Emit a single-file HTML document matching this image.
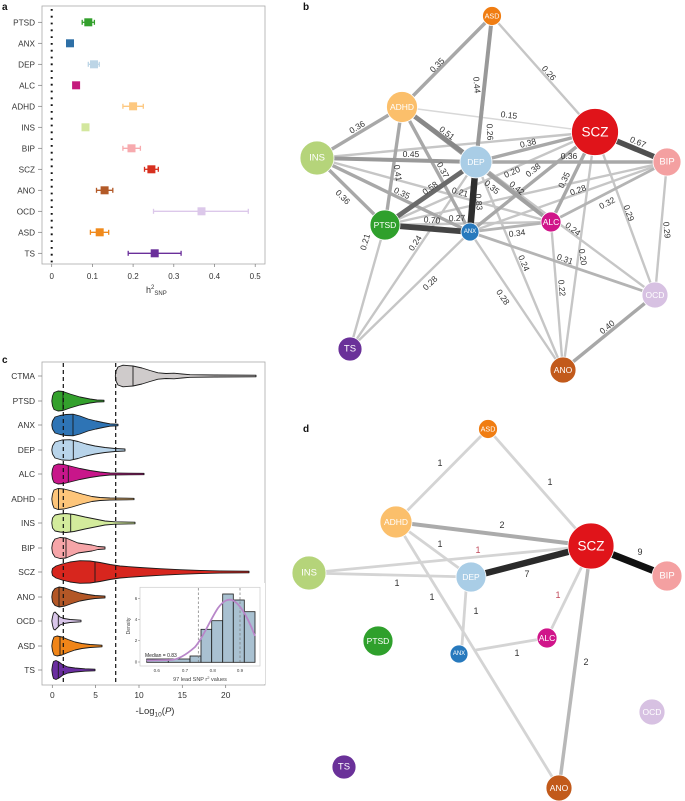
<!DOCTYPE html>
<html><head><meta charset="utf-8"><style>
html,body{margin:0;padding:0;background:#fff;}
svg{display:block;}
text{font-family:"Liberation Sans",Arial,sans-serif;}
</style></head><body>
<svg xmlns="http://www.w3.org/2000/svg" width="685" height="801" viewBox="0 0 685 801">
<rect width="685" height="801" fill="#fff"/>

<!-- ============ PANEL A ============ -->
<text x="2" y="10" font-size="10" font-weight="bold" fill="#111">a</text>
<rect x="42" y="6" width="223" height="258" fill="none" stroke="#aaa" stroke-width="0.8"/>
<line x1="51.7" y1="9" x2="51.7" y2="264" stroke="#111" stroke-width="2" stroke-dasharray="1.8 5"/>
<g font-size="8.2" fill="#333" text-anchor="end">
<text x="35" y="25.3">PTSD</text><text x="35" y="46.3">ANX</text><text x="35" y="67.3">DEP</text>
<text x="35" y="88.3">ALC</text><text x="35" y="109.3">ADHD</text><text x="35" y="130.3">INS</text>
<text x="35" y="151.3">BIP</text><text x="35" y="172.3">SCZ</text><text x="35" y="193.3">ANO</text>
<text x="35" y="214.3">OCD</text><text x="35" y="235.3">ASD</text><text x="35" y="256.3">TS</text>
</g>
<g stroke="#777" stroke-width="0.7">
<line x1="38" y1="22.3" x2="42" y2="22.3"/><line x1="38" y1="43.3" x2="42" y2="43.3"/><line x1="38" y1="64.3" x2="42" y2="64.3"/>
<line x1="38" y1="85.3" x2="42" y2="85.3"/><line x1="38" y1="106.3" x2="42" y2="106.3"/><line x1="38" y1="127.3" x2="42" y2="127.3"/>
<line x1="38" y1="148.3" x2="42" y2="148.3"/><line x1="38" y1="169.3" x2="42" y2="169.3"/><line x1="38" y1="190.3" x2="42" y2="190.3"/>
<line x1="38" y1="211.3" x2="42" y2="211.3"/><line x1="38" y1="232.3" x2="42" y2="232.3"/><line x1="38" y1="253.3" x2="42" y2="253.3"/>
<line x1="51.7" y1="264" x2="51.7" y2="267"/><line x1="92.4" y1="264" x2="92.4" y2="267"/><line x1="133.1" y1="264" x2="133.1" y2="267"/>
<line x1="173.8" y1="264" x2="173.8" y2="267"/><line x1="214.5" y1="264" x2="214.5" y2="267"/><line x1="255.2" y1="264" x2="255.2" y2="267"/>
</g>
<g font-size="8" fill="#333" text-anchor="middle">
<text x="51.7" y="279">0</text><text x="92.4" y="279">0.1</text><text x="133.1" y="279">0.2</text>
<text x="173.8" y="279">0.3</text><text x="214.5" y="279">0.4</text><text x="255.2" y="279">0.5</text>
</g>
<text x="146" y="293" font-size="9" fill="#333">h<tspan dy="-4" font-size="6">2</tspan><tspan dy="6" font-size="6">SNP</tspan></text>
<!-- error bars -->
<g stroke-width="1.3" fill="none">
<g stroke="#33a02c"><line x1="82.2" y1="22.3" x2="94.4" y2="22.3"/><line x1="82.2" y1="19.8" x2="82.2" y2="24.8"/><line x1="94.4" y1="19.8" x2="94.4" y2="24.8"/></g>
<g stroke="#bcd5e6"><line x1="88.3" y1="64.3" x2="99.3" y2="64.3"/><line x1="88.3" y1="61.8" x2="88.3" y2="66.8"/><line x1="99.3" y1="61.8" x2="99.3" y2="66.8"/></g>
<g stroke="#fdc880"><line x1="122.9" y1="106.3" x2="143.3" y2="106.3"/><line x1="122.9" y1="103.8" x2="122.9" y2="108.8"/><line x1="143.3" y1="103.8" x2="143.3" y2="108.8"/></g>
<g stroke="#f7aaae"><line x1="122.9" y1="148.3" x2="140.4" y2="148.3"/><line x1="122.9" y1="145.8" x2="122.9" y2="150.8"/><line x1="140.4" y1="145.8" x2="140.4" y2="150.8"/></g>
<g stroke="#d7301f"><line x1="144.5" y1="169.3" x2="158.3" y2="169.3"/><line x1="144.5" y1="166.8" x2="144.5" y2="171.8"/><line x1="158.3" y1="166.8" x2="158.3" y2="171.8"/></g>
<g stroke="#b35a28"><line x1="96.5" y1="190.3" x2="112.8" y2="190.3"/><line x1="96.5" y1="187.8" x2="96.5" y2="192.8"/><line x1="112.8" y1="187.8" x2="112.8" y2="192.8"/></g>
<g stroke="#dcc8ea"><line x1="153.5" y1="211.3" x2="248.3" y2="211.3"/><line x1="153.5" y1="208.8" x2="153.5" y2="213.8"/><line x1="248.3" y1="208.8" x2="248.3" y2="213.8"/></g>
<g stroke="#f08a1c"><line x1="90.4" y1="232.3" x2="108.7" y2="232.3"/><line x1="90.4" y1="229.8" x2="90.4" y2="234.8"/><line x1="108.7" y1="229.8" x2="108.7" y2="234.8"/></g>
<g stroke="#6a2f9a"><line x1="128.2" y1="253.3" x2="181.1" y2="253.3"/><line x1="128.2" y1="250.8" x2="128.2" y2="255.8"/><line x1="181.1" y1="250.8" x2="181.1" y2="255.8"/></g>
</g>
<g>
<rect x="84.3" y="18.3" width="8" height="8" fill="#33a02c"/>
<rect x="66" y="39.3" width="8" height="8" fill="#2e6fa6"/>
<rect x="90" y="60.3" width="8" height="8" fill="#bcd5e6"/>
<rect x="72.1" y="81.3" width="8" height="8" fill="#c51b7d"/>
<rect x="129.1" y="102.3" width="8" height="8" fill="#fdc880"/>
<rect x="81.5" y="123.3" width="8" height="8" fill="#d3e79e"/>
<rect x="127.5" y="144.3" width="8" height="8" fill="#f7aaae"/>
<rect x="147.4" y="165.3" width="8" height="8" fill="#d7301f"/>
<rect x="100.6" y="186.3" width="8" height="8" fill="#b35a28"/>
<rect x="197.5" y="207.3" width="8" height="8" fill="#dcc8ea"/>
<rect x="95.7" y="228.3" width="8" height="8" fill="#f08a1c"/>
<rect x="150.7" y="249.3" width="8" height="8" fill="#6a2f9a"/>
</g>

<!-- ============ PANEL C ============ -->
<text x="2" y="363" font-size="10" font-weight="bold" fill="#111">c</text>
<rect x="42" y="362" width="223" height="323" fill="none" stroke="#aaa" stroke-width="0.8"/>
<g font-size="8.4" fill="#333" text-anchor="end">
<text x="35" y="379">CTMA</text><text x="35" y="404">PTSD</text><text x="35" y="428">ANX</text>
<text x="35" y="453">DEP</text><text x="35" y="477">ALC</text><text x="35" y="502">ADHD</text>
<text x="35" y="526">INS</text><text x="35" y="551">BIP</text><text x="35" y="575">SCZ</text>
<text x="35" y="600">ANO</text><text x="35" y="624">OCD</text><text x="35" y="649">ASD</text><text x="35" y="673">TS</text>
</g>
<g stroke="#777" stroke-width="0.7">
<line x1="38" y1="376" x2="42" y2="376"/><line x1="38" y1="401" x2="42" y2="401"/><line x1="38" y1="425" x2="42" y2="425"/>
<line x1="38" y1="450" x2="42" y2="450"/><line x1="38" y1="474" x2="42" y2="474"/><line x1="38" y1="499" x2="42" y2="499"/>
<line x1="38" y1="523" x2="42" y2="523"/><line x1="38" y1="548" x2="42" y2="548"/><line x1="38" y1="572" x2="42" y2="572"/>
<line x1="38" y1="597" x2="42" y2="597"/><line x1="38" y1="621" x2="42" y2="621"/><line x1="38" y1="646" x2="42" y2="646"/><line x1="38" y1="670" x2="42" y2="670"/>
<line x1="52.3" y1="685" x2="52.3" y2="688"/><line x1="95.6" y1="685" x2="95.6" y2="688"/><line x1="139" y1="685" x2="139" y2="688"/>
<line x1="182.3" y1="685" x2="182.3" y2="688"/><line x1="225.7" y1="685" x2="225.7" y2="688"/>
</g>
<g font-size="8.4" fill="#333" text-anchor="middle">
<text x="52.3" y="698">0</text><text x="95.6" y="698">5</text><text x="139" y="698">10</text>
<text x="182.3" y="698">15</text><text x="225.7" y="698">20</text>
</g>
<text x="155" y="714" font-size="9.5" fill="#333" text-anchor="middle">-Log<tspan font-size="6.5" dy="2.5">10</tspan><tspan dy="-2.5">(</tspan><tspan font-style="italic">P</tspan>)</text>

<!-- violins -->
<g stroke="#1a1a1a" stroke-width="0.9" stroke-linejoin="round">
<g transform="translate(0,376)"><path fill="#cfcbcb" d="M115.3,0 L116,-5 L118,-9 L123,-10.8 L133,-10 L142,-8 L150,-5.5 L158,-3.2 L166,-2.5 L174,-2.8 L182,-2 L190,-1.3 L215,-1 L256,-0.8 L256,0.8 L215,1 L190,1.3 L182,2 L174,2.8 L166,2.5 L158,3.2 L150,5.5 L142,8 L133,10 L123,10.8 L118,9 L116,5 Z"/><line x1="133" y1="-10" x2="133" y2="10"/></g>
<g transform="translate(0,401)"><path fill="#33a02c" d="M51.8,0 L52.5,-5 L54,-8.5 L58,-10 L63,-9.5 L70,-7 L80,-4 L90,-2 L97,-1 L104,-0.8 L104,0.8 L97,1 L90,2 L80,4 L70,7 L63,9.5 L58,10 L54,8.5 L52.5,5 Z"/><line x1="63" y1="-9.5" x2="63" y2="9.5"/></g>
<g transform="translate(0,425)"><path fill="#2e74b5" d="M51.8,0 L52.5,-4 L55,-8 L60,-9.5 L66,-10.5 L73,-10.8 L80,-9 L88,-6 L96,-4 L103,-2.5 L110,-1.2 L118,-0.8 L118,0.8 L110,1.2 L103,2.5 L96,4 L88,6 L80,9 L73,10.8 L66,10.5 L60,9.5 L55,8 L52.5,4 Z"/><line x1="73" y1="-10.8" x2="73" y2="10.8"/></g>
<g transform="translate(0,450)"><path fill="#b8d4ea" d="M51.8,0 L52.5,-4 L55,-8 L62,-10 L70,-10.3 L78,-8.5 L86,-6 L95,-4 L105,-2.5 L115,-1.5 L125,-1 L125,1 L115,1.5 L105,2.5 L95,4 L86,6 L78,8.5 L70,10.3 L62,10 L55,8 L52.5,4 Z"/><line x1="73.3" y1="-9.8" x2="73.3" y2="9.8"/></g>
<g transform="translate(0,474)"><path fill="#c8168a" d="M51.8,0 L52.5,-5 L54,-8.5 L58,-10 L64,-9.5 L70,-8 L80,-5.5 L90,-3.5 L100,-2 L110,-1 L144,-0.7 L144,0.7 L110,1 L100,2 L90,3.5 L80,5.5 L70,8 L64,9.5 L58,10 L54,8.5 L52.5,5 Z"/><line x1="68.3" y1="-8.4" x2="68.3" y2="8.4"/></g>
<g transform="translate(0,499)"><path fill="#fdc57a" d="M51.8,0 L52.5,-5 L54,-9 L58,-10.5 L64,-10 L72,-8 L82,-5 L92,-2.5 L100,-1.5 L110,-1 L134,-0.7 L134,0.7 L110,1 L100,1.5 L92,2.5 L82,5 L72,8 L64,10 L58,10.5 L54,9 L52.5,5 Z"/><line x1="58.5" y1="-10.4" x2="58.5" y2="10.4"/></g>
<g transform="translate(0,523)"><path fill="#d3eb9c" d="M51.8,0 L52.5,-5 L55,-8 L60,-9 L66,-9.5 L74,-8.5 L85,-6 L95,-4 L105,-2 L115,-1.2 L135,-0.8 L135,0.8 L115,1.2 L105,2 L95,4 L85,6 L74,8.5 L66,9.5 L60,9 L55,8 L52.5,5 Z"/><line x1="70.7" y1="-9" x2="70.7" y2="9"/></g>
<g transform="translate(0,548)"><path fill="#f6a5a8" d="M51.8,0 L52.5,-5 L55,-9 L60,-10.5 L66,-10 L72,-7.5 L78,-5 L85,-4 L92,-3 L98,-1.5 L105,-1 L105,1 L98,1.5 L92,3 L85,4 L78,5 L72,7.5 L66,10 L60,10.5 L55,9 L52.5,5 Z"/><line x1="66" y1="-10" x2="66" y2="10"/></g>
<g transform="translate(0,572)"><path fill="#d7261e" d="M51.8,0 L52.5,-3.5 L56,-6 L62,-8 L70,-10 L80,-11.3 L90,-11 L100,-9.5 L110,-7.5 L120,-6 L140,-4.5 L160,-3.3 L180,-2.3 L200,-1.6 L220,-1.1 L249,-0.8 L249,0.8 L220,1.1 L200,1.6 L180,2.3 L160,3.3 L140,4.5 L120,6 L110,7.5 L100,9.5 L90,11 L80,11.3 L70,10 L62,8 L56,6 L52.5,3.5 Z"/><line x1="95" y1="-10.3" x2="95" y2="10.3"/></g>
<g transform="translate(0,597)"><path fill="#b35726" d="M51.8,0 L52.5,-5 L55,-8.5 L59,-10 L65,-9 L72,-6.5 L80,-4 L88,-2.5 L95,-1.5 L105,-0.9 L105,0.9 L95,1.5 L88,2.5 L80,4 L72,6.5 L65,9 L59,10 L55,8.5 L52.5,5 Z"/><line x1="59" y1="-10" x2="59" y2="10"/></g>
<g transform="translate(0,621)"><path fill="#d9c6ea" d="M51.8,0 L52.5,-4 L53.5,-8 L55,-9 L57,-7 L60,-4 L64,-2.5 L70,-1.5 L81,-0.8 L81,0.8 L70,1.5 L64,2.5 L60,4 L57,7 L55,9 L53.5,8 L52.5,4 Z"/><line x1="58.3" y1="-5" x2="58.3" y2="5"/></g>
<g transform="translate(0,646)"><path fill="#f08519" d="M51.8,0 L52.5,-5 L54,-9 L57,-10 L62,-9 L68,-6.5 L75,-4 L82,-2.5 L90,-1.5 L102,-0.8 L102,0.8 L90,1.5 L82,2.5 L75,4 L68,6.5 L62,9 L57,10 L54,9 L52.5,5 Z"/><line x1="60" y1="-9.4" x2="60" y2="9.4"/></g>
<g transform="translate(0,670)"><path fill="#6a2ea0" d="M51.8,0 L52.5,-5 L53.5,-8.5 L56,-9.5 L59,-8 L63,-5 L68,-3 L75,-2 L85,-1.2 L95,-0.8 L95,0.8 L85,1.2 L75,2 L68,3 L63,5 L59,8 L56,9.5 L53.5,8.5 L52.5,5 Z"/><line x1="58.3" y1="-8.7" x2="58.3" y2="8.7"/></g>
</g>
<g stroke="#111" stroke-width="1.2" stroke-dasharray="4 3">
<line x1="63.3" y1="363" x2="63.3" y2="685"/>
<line x1="115.7" y1="363" x2="115.7" y2="685"/>
</g>

<!-- inset -->
<rect x="125" y="583" width="140" height="101" fill="#fff"/>
<rect x="140" y="587.3" width="120" height="78.7" fill="none" stroke="#ccc" stroke-width="0.7"/>
<g fill="#a9c1d1" stroke="#1a1a1a" stroke-width="0.8">
<rect x="146.7" y="659" width="21.6" height="3.3"/>
<rect x="168.3" y="659" width="21.7" height="3.3"/>
<rect x="190" y="656" width="11" height="6.3"/>
<rect x="201" y="629.3" width="10.7" height="33"/>
<rect x="211.7" y="620.7" width="11" height="41.6"/>
<rect x="222.7" y="594" width="10.6" height="68.3"/>
<rect x="233.3" y="600" width="11" height="62.3"/>
<rect x="244.3" y="611.7" width="10.7" height="50.6"/>
</g>
<g stroke="#777" stroke-width="0.7" stroke-dasharray="2.5 2">
<line x1="198.3" y1="588" x2="198.3" y2="662"/>
<line x1="240" y1="588" x2="240" y2="662"/>
</g>
<path d="M146.7,660.5 L170,660 C178,660 186,655 195,647 C203,638 210,620 218,608 C224,600 228,599 232,600 C240,603 248,618 255,636" fill="none" stroke="#b887c9" stroke-width="1.8"/>
<g font-size="4.5" fill="#444" text-anchor="middle">
<text x="156.7" y="672">0.6</text><text x="185" y="672">0.7</text><text x="212.7" y="672">0.8</text><text x="240" y="672">0.9</text>
<text x="136" y="663.5">0</text><text x="136" y="642.2">2</text><text x="136" y="621">4</text><text x="136" y="599.8">6</text>
</g>
<g stroke="#777" stroke-width="0.5">
<line x1="138" y1="662" x2="140" y2="662"/><line x1="138" y1="640.7" x2="140" y2="640.7"/><line x1="138" y1="619.5" x2="140" y2="619.5"/><line x1="138" y1="598.3" x2="140" y2="598.3"/>
</g>
<text x="130" y="626" font-size="5" fill="#444" text-anchor="middle" transform="rotate(-90 130 626)">Density</text>
<text x="200" y="681" font-size="5.5" fill="#444" text-anchor="middle">97 lead SNP r<tspan font-size="4" dy="-2">2</tspan><tspan dy="2"> values</tspan></text>
<text x="145" y="657" font-size="5" fill="#222">Median = 0.83</text>

<!-- ============ PANEL B ============ -->
<text x="303" y="10" font-size="10" font-weight="bold" fill="#111">b</text>
<g stroke-linecap="round" fill="none">
<!-- light edges -->
<g stroke="#c6c6c6" stroke-width="2.4">
<line x1="492" y1="16" x2="595" y2="132"/>
<line x1="492" y1="16" x2="470" y2="232"/>
<line x1="317" y1="158" x2="551" y2="222"/>
<line x1="385" y1="225" x2="551" y2="222"/>
<line x1="385" y1="225" x2="595" y2="132"/>
<line x1="470" y1="232" x2="667" y2="162"/>
<line x1="595" y1="132" x2="655" y2="295"/>
<line x1="667" y1="162" x2="655" y2="295"/>
<line x1="476" y1="162" x2="655" y2="295"/>
<line x1="595" y1="132" x2="563" y2="370"/>
<line x1="551" y1="222" x2="563" y2="370"/>
<line x1="476" y1="162" x2="563" y2="370"/>
<line x1="470" y1="232" x2="563" y2="370"/>
<line x1="470" y1="232" x2="350" y2="349"/>
<line x1="476" y1="162" x2="350" y2="349"/>
<line x1="385" y1="225" x2="350" y2="349"/>
<line x1="385" y1="225" x2="667" y2="162"/>
<line x1="317" y1="158" x2="595" y2="132"/>
</g>
<line x1="402" y1="107" x2="595" y2="132" stroke="#d8d8d8" stroke-width="1.4"/>
<g stroke="#b4b4b4" stroke-width="2.8">
<line x1="551" y1="222" x2="667" y2="162"/>
<line x1="470" y1="232" x2="655" y2="295"/>
<line x1="470" y1="232" x2="551" y2="222"/>
</g>
<g stroke="#a8a8a8" stroke-width="3.4">
<line x1="492" y1="16" x2="402" y2="107"/>
<line x1="402" y1="107" x2="317" y2="158"/>
<line x1="317" y1="158" x2="385" y2="225"/>
<line x1="317" y1="158" x2="470" y2="232"/>
<line x1="476" y1="162" x2="667" y2="162"/>
<line x1="402" y1="107" x2="470" y2="232"/>
<line x1="476" y1="162" x2="595" y2="132"/>
<line x1="470" y1="232" x2="595" y2="132"/>
<line x1="551" y1="222" x2="595" y2="132"/>
<line x1="655" y1="295" x2="563" y2="370"/>
<line x1="402" y1="107" x2="385" y2="225"/>
<line x1="476" y1="162" x2="551" y2="222"/>
</g>
<line x1="402" y1="107" x2="551" y2="222" stroke="#a0a0a0" stroke-width="3.8"/>
<g stroke="#999" stroke-width="4">
<line x1="492" y1="16" x2="476" y2="162"/>
<line x1="317" y1="158" x2="476" y2="162"/>
</g>
<line x1="402" y1="107" x2="476" y2="162" stroke="#888" stroke-width="4.8"/>
<line x1="476" y1="162" x2="385" y2="225" stroke="#6a6a6a" stroke-width="4.8"/>
<line x1="595" y1="132" x2="667" y2="162" stroke="#505050" stroke-width="5.5"/>
<line x1="385" y1="225" x2="470" y2="232" stroke="#444" stroke-width="5.8"/>
<line x1="476" y1="162" x2="470" y2="232" stroke="#2e2e2e" stroke-width="6.5"/>
</g>
<!-- edge labels b -->
<g font-size="8.5" fill="#333" text-anchor="middle" dominant-baseline="central">
<text transform="translate(437,65) rotate(-45)">0.35</text>
<text transform="translate(477,85) rotate(85)">0.44</text>
<text transform="translate(490,132) rotate(87)">0.26</text>
<text transform="translate(549,73) rotate(48)">0.26</text>
<text transform="translate(509,115) rotate(7)">0.15</text>
<text transform="translate(357,127) rotate(-31)">0.36</text>
<text transform="translate(447,133) rotate(37)">0.51</text>
<text transform="translate(398,173) rotate(82)">0.41</text>
<text transform="translate(443,170) rotate(62)">0.37</text>
<text transform="translate(411,154) rotate(1)">0.45</text>
<text transform="translate(343,197) rotate(45)">0.36</text>
<text transform="translate(402,193) rotate(26)">0.35</text>
<text transform="translate(460,192) rotate(15)">0.21</text>
<text transform="translate(528,143) rotate(-14)">0.38</text>
<text transform="translate(569,156) rotate(0)">0.36</text>
<text transform="translate(638,142) rotate(23)">0.67</text>
<text transform="translate(430,188) rotate(-35)">0.58</text>
<text transform="translate(479,202) rotate(85)">0.83</text>
<text transform="translate(432,220) rotate(5)">0.70</text>
<text transform="translate(457,218) rotate(-2)">0.27</text>
<text transform="translate(512,172) rotate(-24)">0.20</text>
<text transform="translate(533,170) rotate(-39)">0.38</text>
<text transform="translate(564,180) rotate(-64)">0.35</text>
<text transform="translate(578,190) rotate(-20)">0.28</text>
<text transform="translate(607,203) rotate(-27)">0.32</text>
<text transform="translate(629,213) rotate(70)">0.29</text>
<text transform="translate(667,230) rotate(85)">0.29</text>
<text transform="translate(573,229) rotate(37)">0.24</text>
<text transform="translate(565,259) rotate(19)">0.31</text>
<text transform="translate(583,257) rotate(82)">0.20</text>
<text transform="translate(562,288) rotate(85)">0.22</text>
<text transform="translate(524,263) rotate(67)">0.24</text>
<text transform="translate(503,297) rotate(56)">0.28</text>
<text transform="translate(607,327) rotate(-39)">0.40</text>
<text transform="translate(430,283) rotate(-44)">0.28</text>
<text transform="translate(415,243) rotate(-56)">0.24</text>
<text transform="translate(365,242) rotate(-74)">0.21</text>
<text transform="translate(517,233) rotate(-7)">0.34</text>
<text transform="translate(492,187) rotate(40)">0.35</text>
<text transform="translate(517,188) rotate(39)">0.42</text>
</g>
<!-- nodes b -->
<g stroke="#fff" stroke-width="0.8">
<circle cx="492" cy="16" r="9.5" fill="#f07d12"/>
<circle cx="402" cy="107" r="15.5" fill="#fbbf6b"/>
<circle cx="595" cy="132" r="23.5" fill="#e0141a"/>
<circle cx="317" cy="158" r="17" fill="#b5d47a"/>
<circle cx="476" cy="162" r="16" fill="#a9cde6"/>
<circle cx="667" cy="162" r="14" fill="#f4a0a1"/>
<circle cx="385" cy="225" r="15" fill="#2fa02c"/>
<circle cx="470" cy="232" r="9" fill="#2779bd"/>
<circle cx="551" cy="222" r="10" fill="#d0158a"/>
<circle cx="655" cy="295" r="13" fill="#d7c1e2"/>
<circle cx="350" cy="349" r="12" fill="#6a3199"/>
<circle cx="563" cy="370" r="13" fill="#c25a1b"/>
</g>
<g fill="#fff" text-anchor="middle" dominant-baseline="central">
<text x="492" y="16" font-size="7.2">ASD</text>
<text x="402" y="107" font-size="8.5">ADHD</text>
<text x="595" y="132" font-size="13.5">SCZ</text>
<text x="317" y="158" font-size="9.5">INS</text>
<text x="476" y="162" font-size="8.5">DEP</text>
<text x="667" y="162" font-size="9.5">BIP</text>
<text x="385" y="225" font-size="8.5">PTSD</text>
<text x="470" y="232" font-size="6">ANX</text>
<text x="551" y="222" font-size="8.5">ALC</text>
<text x="655" y="295" font-size="8.5">OCD</text>
<text x="350" y="349" font-size="9.5">TS</text>
<text x="563" y="370" font-size="8.5">ANO</text>
</g>

<!-- ============ PANEL D ============ -->
<text x="303" y="432" font-size="10" font-weight="bold" fill="#111">d</text>
<g stroke-linecap="round" fill="none">
<g stroke="#d4d4d4" stroke-width="2.8">
<line x1="488" y1="429" x2="396" y2="522"/>
<line x1="488" y1="429" x2="591" y2="546"/>
<line x1="396" y1="522" x2="471" y2="577"/>
<line x1="396" y1="522" x2="559" y2="788"/>
<line x1="309" y1="573" x2="591" y2="546"/>
<line x1="309" y1="573" x2="471" y2="577"/>
<line x1="467" y1="577" x2="462" y2="645"/>
<line x1="476" y1="650" x2="547" y2="638"/>
<line x1="585" y1="560" x2="547" y2="638"/>
</g>
<line x1="396" y1="522" x2="591" y2="546" stroke="#ababab" stroke-width="4"/>
<line x1="591" y1="546" x2="559" y2="788" stroke="#b8b8b8" stroke-width="3.5"/>
<line x1="471" y1="577" x2="591" y2="546" stroke="#2a2a2a" stroke-width="6.5"/>
<line x1="591" y1="546" x2="667" y2="576" stroke="#111" stroke-width="7"/>
</g>
<g font-size="9" fill="#333" text-anchor="middle" dominant-baseline="central">
<text x="440" y="463">1</text>
<text x="550" y="482">1</text>
<text x="502" y="525">2</text>
<text x="440" y="544">1</text>
<text x="478" y="550" fill="#c04a5a">1</text>
<text x="397" y="583">1</text>
<text x="527" y="574">7</text>
<text x="640" y="552">9</text>
<text x="432" y="597">1</text>
<text x="476" y="611">1</text>
<text x="517" y="653">1</text>
<text x="558" y="595" fill="#c04a5a">1</text>
<text x="586" y="662">2</text>
</g>
<g stroke="#fff" stroke-width="0.8">
<circle cx="488" cy="429" r="9.5" fill="#f07d12"/>
<circle cx="396" cy="522" r="16" fill="#fbbf6b"/>
<circle cx="591" cy="546" r="23" fill="#e0141a"/>
<circle cx="667" cy="576" r="15" fill="#f4a0a1"/>
<circle cx="309" cy="573" r="17" fill="#b5d47a"/>
<circle cx="471" cy="577" r="15" fill="#a9cde6"/>
<circle cx="378" cy="641" r="15" fill="#2fa02c"/>
<circle cx="459" cy="654" r="9" fill="#2779bd"/>
<circle cx="547" cy="638" r="10" fill="#d0158a"/>
<circle cx="652" cy="712" r="13" fill="#d7c1e2"/>
<circle cx="344" cy="767" r="12" fill="#6a3199"/>
<circle cx="559" cy="788" r="13" fill="#c25a1b"/>
</g>
<g fill="#fff" text-anchor="middle" dominant-baseline="central">
<text x="488" y="429" font-size="7.2">ASD</text>
<text x="396" y="522" font-size="8.5">ADHD</text>
<text x="591" y="546" font-size="13.5">SCZ</text>
<text x="667" y="576" font-size="9.5">BIP</text>
<text x="309" y="573" font-size="9.5">INS</text>
<text x="471" y="577" font-size="8.5">DEP</text>
<text x="378" y="641" font-size="8.5">PTSD</text>
<text x="459" y="654" font-size="6">ANX</text>
<text x="547" y="638" font-size="8.5">ALC</text>
<text x="652" y="712" font-size="8.5">OCD</text>
<text x="344" y="767" font-size="9.5">TS</text>
<text x="559" y="788" font-size="8.5">ANO</text>
</g>
</svg>
</body></html>
